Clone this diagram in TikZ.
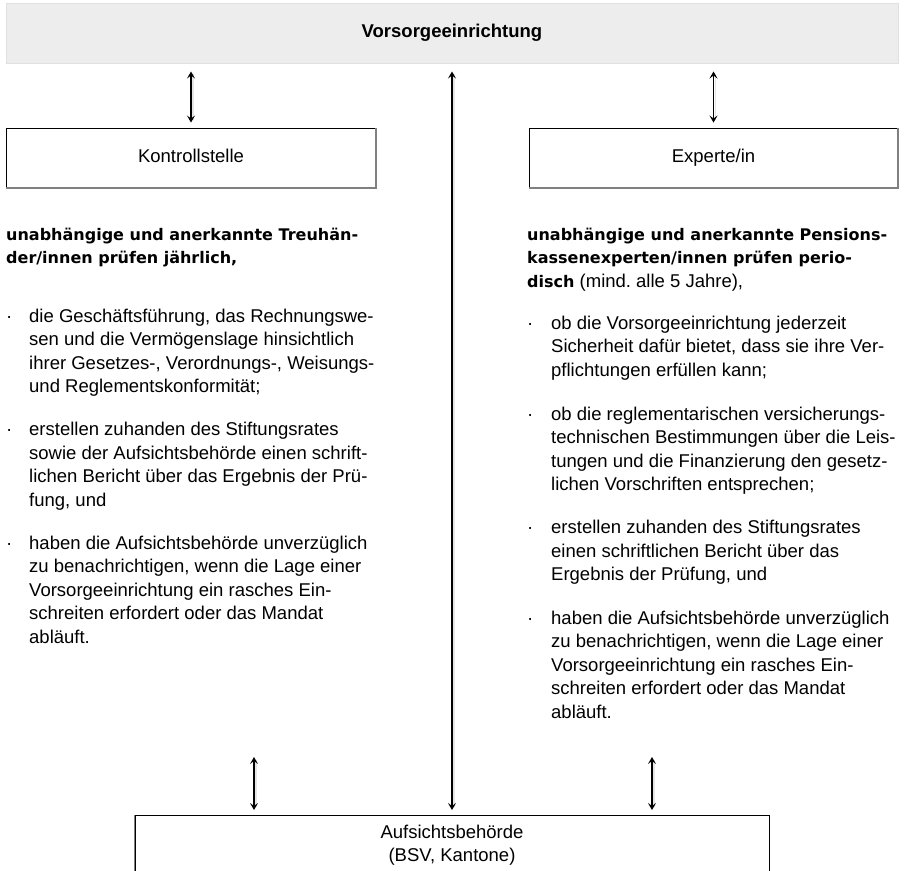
\documentclass[tikz,border=0pt]{standalone}
\usepackage{fontspec}
\setmainfont{Liberation Sans}
\newfontfamily\hdfont{DejaVu Sans}
\usetikzlibrary{arrows.meta}
\newcommand\bodyfont{\fontsize{18.5}{23.5}\selectfont}
\newcommand\headfont{\hdfont\bfseries\fontsize{16}{23.5}\selectfont}
\newcommand\bitem[2][23pt]{\makebox[#1][l]{·}\parbox[t]{360pt}{\raggedright #2}}
\newcommand\hpar[1]{\parbox[t]{390pt}{\raggedright #1}}
\begin{document}
\begin{tikzpicture}[x=1pt,y=-1pt,
  box/.style={draw=black, line width=0.9pt, rectangle, inner sep=0pt, font=\bodyfont, text height=13.5pt, text depth=4pt},
  topbox/.style={draw=black!12, fill=black!7, line width=1pt, rectangle, inner sep=0pt, text height=13.5pt, text depth=4pt},
  edgeline/.style={draw=black!50, line width=2pt},
  txt/.style={inner sep=0pt, anchor=base west, font=\bodyfont},
  conn/.style={line width=1.9pt, {Stealth[length=7pt,width=8pt,inset=3pt]}-{Stealth[length=7pt,width=8pt,inset=3pt]}},
  shadeline/.style={draw=black!10, line width=1.3pt, transform canvas={xshift=2pt}}]
\clip (0,0) rectangle (906,871);

% boxes
\node[topbox, minimum width=892pt, minimum height=60pt] (top) at (452,33)
  {\fontsize{18.5}{22}\selectfont\bfseries Vorsorgeeinrichtung};
\node[box, minimum width=370pt, minimum height=60pt] (kon) at (191,158) {Kontrollstelle};
\node[box, minimum width=369pt, minimum height=60pt] (exp) at (713.5,158) {Experte/in};
\draw[edgeline] (kon.north east) -- (kon.south east) -- (kon.south west);
\draw[edgeline] (exp.north east) -- (exp.south east) -- (exp.south west);

\node[box, minimum width=634pt, minimum height=90pt, anchor=north] (auf) at (452,815) {};
\draw[edgeline, line width=1.6pt] (auf.north west) -- (auf.south west);
\node[inner sep=0pt, anchor=base, font=\bodyfont] (auflab) at (452,838)
  {\parbox[t]{300pt}{\centering Aufsichtsbehörde\\(BSV, Kantone)}};

% left column
\node[txt] (lh) at (6,240) {\headfont\hpar{unabhängige und anerkannte Treuhän-\\der/innen prüfen jährlich,}};
\node[txt] (l1) at (6,322) {\bitem{die Geschäftsführung, das Rechnungswe-\\sen und die Vermögenslage hinsichtlich\\ihrer Gesetzes-, Verordnungs-, Weisungs-\\und Reglementskonformität;}};
\node[txt] (l2) at (6,435.5) {\bitem{erstellen zuhanden des Stiftungsrates\\sowie der Aufsichtsbehörde einen schrift-\\lichen Bericht über das Ergebnis der Prü-\\fung, und}};
\node[txt] (l3) at (6,549) {\bitem{haben die Aufsichtsbehörde unverzüglich\\zu benachrichtigen, wenn die Lage einer\\Vorsorgeeinrichtung ein rasches Ein-\\schreiten erfordert oder das Mandat\\abläuft.}};

% right column
\node[txt] (rh) at (527,240) {\hpar{{\headfont unabhängige und anerkannte Pensions-\\kassenexperten/innen prüfen perio-\\disch} (mind.\ alle 5 Jahre),}};
\node[txt] (r1) at (527,329) {\bitem[24pt]{ob die Vorsorgeeinrichtung jederzeit\\Sicherheit dafür bietet, dass sie ihre Ver-\\pflichtungen erfüllen kann;}};
\node[txt] (r2) at (527,420) {\bitem[24pt]{ob die reglementarischen versicherungs-\\technischen Bestimmungen über die Leis-\\tungen und die Finanzierung den gesetz-\\lichen Vorschriften entsprechen;}};
\node[txt] (r3) at (527,533.5) {\bitem[24pt]{erstellen zuhanden des Stiftungsrates\\einen schriftlichen Bericht über das\\Ergebnis der Prüfung, und}};
\node[txt] (r4) at (527,624) {\bitem[24pt]{haben die Aufsichtsbehörde unverzüglich\\zu benachrichtigen, wenn die Lage einer\\Vorsorgeeinrichtung ein rasches Ein-\\schreiten erfordert oder das Mandat\\abläuft.}};

% connectors
\coordinate (bl) at (254,757);
\coordinate (br) at (652,757);
\draw[shadeline, shorten <=10pt, shorten >=8pt] (kon.north |- top.south) -- (kon.north);
\draw[shadeline, shorten <=10pt, shorten >=8pt] (exp.north |- top.south) -- (exp.north);
\draw[shadeline, shorten <=10pt, shorten >=8pt] (top.south) -- (auf.north);
\draw[shadeline, shorten <=3pt, shorten >=8pt] (bl) -- (bl |- auf.north);
\draw[shadeline, shorten <=3pt, shorten >=8pt] (br) -- (br |- auf.north);
\draw[conn, shorten <=8pt, shorten >=5pt] (kon.north |- top.south) -- (kon.north);
\draw[conn, shorten <=8pt, shorten >=5pt] (exp.north |- top.south) -- (exp.north);
\draw[conn, shorten <=8pt, shorten >=5pt] (top.south) -- (auf.north);
\draw[conn, shorten >=5pt] (bl) -- (bl |- auf.north);
\draw[conn, shorten >=5pt] (br) -- (br |- auf.north);
\end{tikzpicture}
\end{document}
